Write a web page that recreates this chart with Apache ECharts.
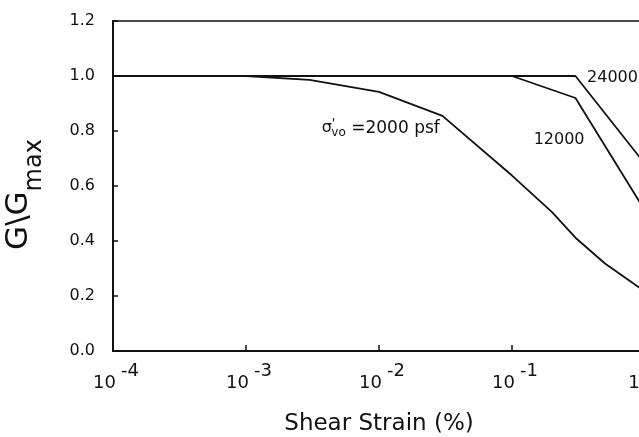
<!DOCTYPE html>
<html>
<head>
<meta charset="utf-8">
<script src="https://cdn.jsdelivr.net/npm/echarts@6/dist/echarts.min.js"></script>
<style>
  html, body { margin: 0; padding: 0; background: #fff; }
  #chart { width: 639px; height: 437px; }
</style>
</head>
<body>
<div id="chart"></div>
<script>
// Shear strain (%) at each curve vertex, and G/Gmax there
const strain2000 = [1e-4, 1e-3, 3e-3, 1e-2, 3e-2, 0.1, 0.2, 0.3, 0.5, 1];
const ratio2000  = [1.0, 1.0, 0.986, 0.942, 0.855, 0.638, 0.505, 0.412, 0.318, 0.216];

const strain12000 = [1e-4, 0.1, 0.3, 1];
const ratio12000  = [1.0, 1.0, 0.92, 0.51];

const strain24000 = [1e-4, 0.3, 1];
const ratio24000  = [1.0, 1.0, 0.68];

// Y axis ticks
const yTicks = [0, 0.2, 0.4, 0.6, 0.8, 1.0, 1.2];

const FONT = 'DejaVu Sans';
const INK = '#111';

function pairs(xs, ys) { return xs.map((x, i) => [x, ys[i]]); }

function curve(name, xs, ys, label) {
  const s = {
    name: name,
    type: 'line',
    data: pairs(xs, ys),
    symbol: 'none',
    lineStyle: { color: INK, width: 1.8 },
    animation: false,
    z: 3
  };
  if (label) {
    s.markPoint = {
      symbol: 'circle',
      symbolSize: 0,
      animation: false,
      data: [{
        coord: label.coord,
        label: {
          show: true,
          position: 'inside',
          formatter: label.text,
          color: INK,
          fontFamily: FONT,
          fontSize: 16,
          rich: label.rich || {}
        }
      }]
    };
  }
  return s;
}

const chart = echarts.init(document.getElementById('chart'), null, { renderer: 'canvas' });

chart.setOption({
  backgroundColor: '#fff',
  animation: false,
  grid: {
    left: 113, top: 21, right: -6, bottom: 86,
    containLabel: false,
    outerBoundsMode: 'none',
    show: true, borderColor: INK, borderWidth: 1.5, backgroundColor: 'transparent'
  },
  xAxis: {
    type: 'log',
    logBase: 10,
    min: 1e-4,
    max: 1,
    name: 'Shear Strain (%)',
    nameLocation: 'middle',
    nameGap: 62,
    nameTextStyle: { fontFamily: FONT, fontSize: 23, color: INK },
    axisLine: { show: true, lineStyle: { color: INK, width: 2 } },
    axisTick: { show: true, inside: true, length: 6, lineStyle: { color: INK, width: 1.5 } },
    splitLine: { show: false },
    axisLabel: {
      margin: 11,
      color: INK,
      formatter: function (v) {
        const e = Math.round(Math.log10(v));
        return '{b|10}{s|' + (e < 0 ? '-' + (-e) : e) + '}';
      },
      rich: {
        b: { fontFamily: FONT, fontSize: 18, lineHeight: 30, verticalAlign: 'bottom', color: INK, padding: [0, 0, 0, 6] },
        s: { fontFamily: FONT, fontSize: 18, lineHeight: 16, verticalAlign: 'top', color: INK, padding: [0, 0, 0, 5] }
      }
    }
  },
  yAxis: {
    type: 'value',
    min: 0,
    max: 1.2,
    interval: 0.2,
    name: '{g|G\\G}{m|max}',
    nameLocation: 'middle',
    nameRotate: 90,
    nameGap: 66,
    nameTextStyle: {
      color: INK,
      padding: [0, 17, 0, 0],
      rich: {
        g: { fontFamily: FONT, fontSize: 31, lineHeight: 44, verticalAlign: 'top', color: INK },
        m: { fontFamily: FONT, fontSize: 24, lineHeight: 12, verticalAlign: 'bottom', color: INK }
      }
    },
    axisLine: { show: true, lineStyle: { color: INK, width: 2 } },
    axisTick: { show: true, inside: true, length: 5, lineStyle: { color: INK, width: 1.5 } },
    splitLine: { show: false },
    axisLabel: {
      margin: 18,
      color: INK,
      fontFamily: FONT,
      fontSize: 16,
      formatter: function (v) { return v.toFixed(1); }
    }
  },
  series: [
    curve('2000 psf', strain2000, ratio2000, {
      coord: [0.0103, 0.81],
      text: '{sg|σ}{pr|\'}{sb|vo}{t| =2000 psf}',
      rich: {
        sg: { fontFamily: FONT, fontSize: 16, lineHeight: 22, verticalAlign: 'middle', color: INK },
        pr: { fontFamily: FONT, fontSize: 13, lineHeight: 10, verticalAlign: 'top', color: INK },
        sb: { fontFamily: FONT, fontSize: 12, lineHeight: 10, verticalAlign: 'bottom', color: INK, padding: [0, 0, 0, -4] },
        t: { fontFamily: FONT, fontSize: 17, lineHeight: 22, verticalAlign: 'middle', color: INK }
      }
    }),
    curve('12000 psf', strain12000, ratio12000, { coord: [0.226, 0.768], text: '12000' }),
    curve('24000 psf', strain24000, ratio24000, { coord: [0.57, 0.993], text: '24000' })
  ]
});
</script>
</body>
</html>
